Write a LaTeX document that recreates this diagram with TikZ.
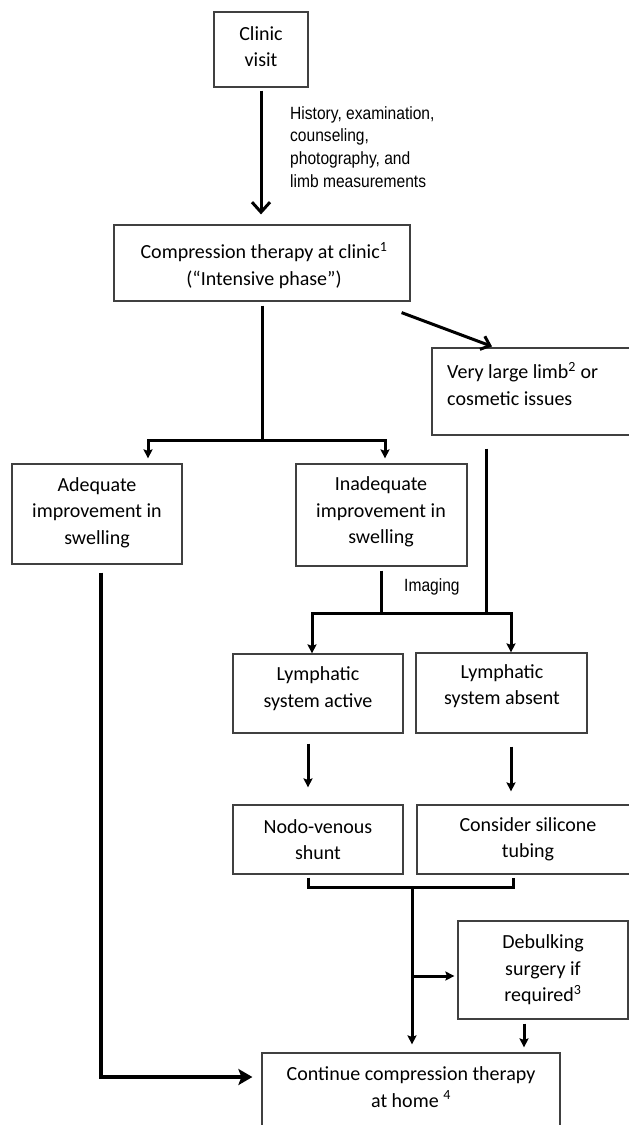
\documentclass[tikz,border=0pt]{standalone}
\usepackage{fontspec}
\setmainfont{Carlito}
\newfontfamily\annfont[FakeStretch=0.88]{Liberation Sans}
\usetikzlibrary{arrows.meta}
\begin{document}
\begin{tikzpicture}[x=1pt,y=-1pt,
  box/.style={draw=black!75, line width=1.2pt, rectangle, inner sep=0pt},
  txt/.style={font=\fontsize{20}{26.5}\selectfont, align=center, inner sep=0pt},
  ann/.style={font=\annfont\fontsize{17.7}{22.7}\selectfont, align=left, inner sep=0pt, anchor=west},
  conn/.style={line width=3pt},
  route/.style={line width=4.5pt, -{Stealth[length=14pt,width=16pt,inset=3pt]}},
  >={Stealth[length=9pt,width=9pt,inset=1.5pt]}
]
\useasboundingbox (0,0) rectangle (629,1125);

% boxes
\node[box, minimum width=94pt,  minimum height=75pt]  (clinic)     at (261,49.5) {};
\node[box, minimum width=296pt, minimum height=76pt]  (comp)       at (262,263) {};
\node[box, minimum width=208pt, minimum height=87pt]  (large)      at (536,391.5) {};
\node[box, minimum width=170pt, minimum height=100pt] (adequate)   at (97,514) {};
\node[box, minimum width=171pt, minimum height=102pt] (inadequate) at (381.5,515) {};
\node[box, minimum width=170pt, minimum height=79pt]  (active)     at (318,693.5) {};
\node[box, minimum width=171pt, minimum height=80pt]  (absent)     at (501.5,693) {};
\node[box, minimum width=170pt, minimum height=69pt]  (nodo)       at (318,839.5) {};
\node[box, minimum width=223pt, minimum height=69pt]  (consider)   at (528.5,839.5) {};
\node[box, minimum width=170pt, minimum height=98pt]  (debulk)     at (543,970) {};
\node[box, minimum width=298pt, minimum height=87pt]  (cont)       at (411,1096.5) {};

% texts
\node[txt] (t-clinic) at (261,46.5) {Clinic\\visit};
\node[ann] (t-ann) at (290,147) {History, examination,\\counseling,\\photography, and\\limb measurements};
\node[txt] (t-comp) at (264,265.5) {Compression therapy at clinic\textsuperscript{1}\\(“Intensive phase”)};
\node[txt, anchor=west, align=left] (t-large) at (447,384) {Very large limb\textsuperscript{2} or\\cosmetic issues};
\node[txt] (t-adequate) at (97,512.7) {Adequate\\improvement in\\swelling};
\node[txt] (t-inadequate) at (381,512) {Inadequate\\improvement in\\swelling};
\node[ann] (t-imaging) at (404,587) {Imaging};
\node[txt] (t-active) at (318,688.5) {Lymphatic\\system active};
\node[txt] (t-absent) at (502,686) {Lymphatic\\system absent};
\node[txt] (t-nodo) at (318,839.5) {Nodo-venous\\shunt};
\node[txt] (t-consider) at (528,839.5) {Consider silicone\\tubing};
\node[txt] (t-debulk) at (543,970) {Debulking\\surgery if\\required\textsuperscript{3}};
\node[txt] (t-cont) at (411,1087) {Continue compression therapy\\at home \textsuperscript{4}};

% junctions
\coordinate (j1) at (262,440);
\coordinate (j3) at (486,613);
\coordinate (j4) at (412,887);
\coordinate (j5) at (412,976);

% connectors
\draw[conn, -{Straight Barb[length=10pt,width=18pt]}, shorten <=3pt, shorten >=10pt]
  (clinic.south) -- (clinic.south |- comp.north);
\draw[conn, shorten <=4pt] (comp.south) -- (j1);
\draw[conn, <->, shorten <=5pt, shorten >=5pt]
  ([xshift=51pt]adequate.north) |- (j1) -| ([xshift=3.5pt]inadequate.north);
\draw[conn, -{Straight Barb[length=8pt,width=14pt]}]
  ([xshift=-9pt,yshift=-11pt]comp.south east) -- ([xshift=-44pt,yshift=1pt]large.north);
\draw[conn, shorten <=4pt] (inadequate.south) -- (inadequate.south |- j3);
\draw[conn, shorten <=13pt] (j3 |- large.south) -- (j3);
\draw[conn, <->] ([xshift=-6pt]active.north) |- (j3) -| ([xshift=9.5pt]absent.north);
\draw[conn, ->, shorten <=10pt, shorten >=17pt] ([xshift=-10pt]active.south) -- ([xshift=-10pt]nodo.north);
\draw[conn, ->, shorten <=13pt, shorten >=13pt] ([xshift=9.5pt]absent.south) -- ([xshift=9.5pt]absent.south |- consider.north);
\draw[conn] ([xshift=-10pt,yshift=-3pt]nodo.south) |- (j4) -| ([xshift=-15.5pt,yshift=-3pt]consider.south);
\draw[conn, ->, shorten >=8pt] (j4) -- (j4 |- cont.north);
\draw[conn, ->, shorten >=3pt] (j5) -- (j5 -| debulk.west);
\draw[conn, ->, shorten <=4pt, shorten >=5pt] ([xshift=-19pt]debulk.south) -- ([xshift=-19pt]debulk.south |- cont.north);
\draw[route, shorten <=8pt, shorten >=9pt] ([xshift=4pt]adequate.south) |- ([yshift=19.5pt]cont.west);
\end{tikzpicture}
\end{document}
